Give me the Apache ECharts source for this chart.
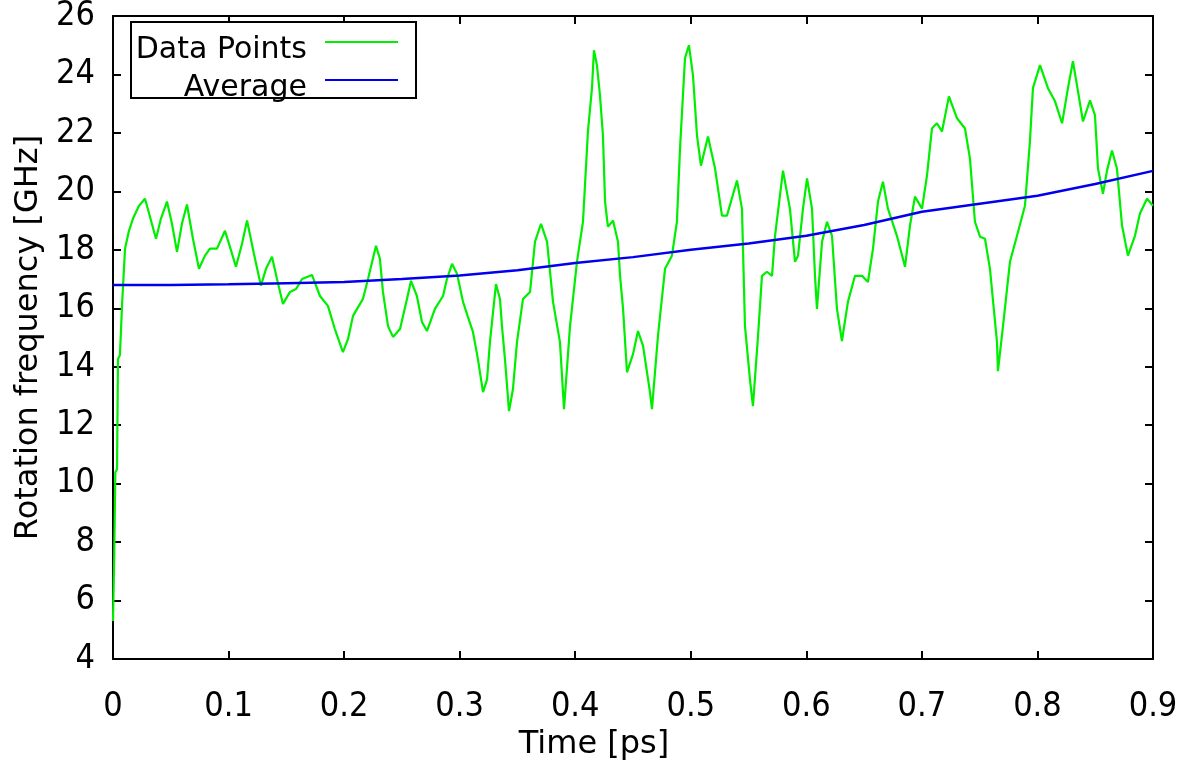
<!DOCTYPE html>
<html>
<head>
<meta charset="utf-8">
<script src="https://cdn.jsdelivr.net/npm/echarts@6/dist/echarts.min.js"></script>
<style>
html,body{margin:0;padding:0;background:#fff;}
#chart{width:1188px;height:762px;}
</style>
</head>
<body>
<div id="chart"></div>
<script>
// ---- Data ----
var dataTime = [0.000,0.001,0.002,0.0035,0.0043,0.006,0.0078,0.0104,0.0138,0.0173,0.0225,0.0277,0.032,0.0372,0.0415,0.0467,0.051,0.0554,0.0597,0.064,0.0692,0.0744,0.0796,0.0839,0.09,0.0969,0.1012,0.1064,0.1116,0.116,0.122,0.128,0.1324,0.1376,0.1419,0.1471,0.1532,0.1584,0.1636,0.1722,0.1791,0.186,0.192,0.199,0.2034,0.2077,0.2163,0.2207,0.2276,0.231,0.2336,0.238,0.2423,0.2484,0.2544,0.2579,0.263,0.2674,0.2717,0.2786,0.2856,0.289,0.2934,0.2977,0.3029,0.3072,0.3115,0.3158,0.3202,0.3237,0.3262,0.3314,0.3349,0.3366,0.3392,0.3427,0.3461,0.3496,0.3548,0.3609,0.3652,0.3704,0.3756,0.3808,0.3868,0.3903,0.3955,0.4015,0.4067,0.411,0.4145,0.4162,0.4188,0.4214,0.424,0.4258,0.4283,0.4327,0.437,0.4388,0.4414,0.4448,0.45,0.4543,0.4587,0.4647,0.4664,0.4716,0.4777,0.4837,0.488,0.4907,0.495,0.4984,0.5019,0.5054,0.5088,0.5149,0.521,0.527,0.5313,0.54,0.5443,0.5469,0.5512,0.5538,0.5582,0.5616,0.5659,0.5703,0.5729,0.5798,0.5858,0.5902,0.5928,0.5971,0.6006,0.6049,0.6075,0.6092,0.6136,0.6179,0.6222,0.6265,0.6308,0.636,0.6421,0.6482,0.6533,0.6577,0.662,0.6663,0.6706,0.6784,0.6854,0.6897,0.694,0.7001,0.7044,0.7087,0.713,0.7174,0.7234,0.7304,0.7373,0.7416,0.7459,0.7503,0.7546,0.7589,0.765,0.7658,0.7702,0.7762,0.7823,0.7892,0.7935,0.7961,0.8022,0.8091,0.8152,0.8213,0.8264,0.8307,0.8351,0.8394,0.8455,0.8498,0.8524,0.8567,0.8602,0.8645,0.8688,0.8732,0.8783,0.8844,0.8887,0.8948,0.9];
var dataFreq = [5.30,7.4,10.38,10.5,14.26,14.4,16.08,18.04,18.65,19.07,19.51,19.75,19.13,18.38,19.07,19.65,18.9,17.93,18.9,19.55,18.38,17.35,17.8,18.04,18.04,18.65,18.1,17.42,18.2,19.0,17.86,16.77,17.35,17.76,17.0,16.15,16.56,16.66,17.0,17.14,16.42,16.08,15.29,14.5,14.95,15.74,16.32,17.0,18.14,17.69,16.56,15.39,15.02,15.29,16.32,16.94,16.42,15.53,15.22,15.98,16.42,17.0,17.52,17.18,16.22,15.7,15.19,14.26,13.13,13.57,14.84,16.83,16.32,15.39,14.26,12.48,13.23,14.84,16.32,16.56,18.28,18.89,18.28,16.22,14.84,12.55,15.39,17.59,18.96,22.05,23.53,24.83,24.32,23.29,21.91,19.65,18.79,19.0,18.28,17.11,15.98,13.81,14.43,15.22,14.71,13.13,12.55,15.05,17.35,17.8,18.96,21.47,24.56,25.0,23.97,21.91,20.88,21.88,20.78,19.17,19.17,20.37,19.41,15.39,13.57,12.65,15.05,17.11,17.25,17.11,18.48,20.71,19.41,17.59,17.8,19.41,20.44,19.41,17.11,15.98,18.28,18.96,18.48,15.98,14.88,16.22,17.11,17.11,16.9,18.04,19.65,20.33,19.41,18.48,17.42,18.83,19.82,19.41,20.54,22.15,22.33,22.05,23.25,22.5,22.15,21.12,18.96,18.45,18.38,17.35,14.84,13.85,15.39,17.59,18.48,19.51,21.71,23.53,24.32,23.53,23.08,22.33,23.53,24.45,23.42,22.39,23.11,22.6,20.78,19.92,20.71,21.4,20.78,18.83,17.8,18.48,19.24,19.75,19.51];
var avgTime = [0,0.05,0.1,0.15,0.2,0.25,0.3,0.35,0.4,0.45,0.5,0.55,0.6,0.65,0.7,0.75,0.8,0.85,0.9];
var avgFreq = [16.8,16.8,16.82,16.86,16.9,17.0,17.12,17.3,17.55,17.75,18.0,18.22,18.48,18.85,19.3,19.58,19.85,20.25,20.7];
var xTicks = [0,0.1,0.2,0.3,0.4,0.5,0.6,0.7,0.8,0.9];
var yTicks = [4,6,8,10,12,14,16,18,20,22,24,26];
var seriesNames = ['Data Points','Average'];
var xName = 'Time [ps]';
var yName = 'Rotation frequency [GHz]';

function zip(a,b){var r=[];for(var i=0;i<a.length;i++){r.push([a[i],b[i]]);}return r;}

var tickFont = "'Liberation Sans Narrow','DejaVu Sans Condensed',sans-serif";
var nameFont = "'DejaVu Sans',sans-serif";

var chart = echarts.init(document.getElementById('chart'), null, {renderer:'canvas'});

var axisLineStyle = {color:'#000', width:2};
function xAxisCfg(pos, showLabel){
  return {
    type:'value', position:pos, min:xTicks[0], max:xTicks[xTicks.length-1], interval:0.1,
    axisLine:{show:true, onZero:false, lineStyle:axisLineStyle},
    axisTick:{show:true, inside:true, length:8, lineStyle:{color:'#000', width:2}},
    splitLine:{show:false},
    axisLabel:{show:showLabel, margin:31, color:'#000', fontFamily:tickFont, fontSize:34,
      formatter:function(v){return v===0?'0':v.toFixed(1);}},
    name: showLabel ? xName : '',
    nameLocation:'middle', nameGap:68,
    nameTextStyle:{color:'#000', fontFamily:nameFont, fontSize:32, padding:[0,78,0,0]}
  };
}
function yAxisCfg(pos, showLabel){
  return {
    type:'value', position:pos, min:yTicks[0], max:yTicks[yTicks.length-1], interval:2,
    axisLine:{show:true, onZero:false, lineStyle:axisLineStyle},
    axisTick:{show:true, inside:true, length:8, lineStyle:{color:'#000', width:2}},
    splitLine:{show:false},
    axisLabel:{show:showLabel, margin:18, color:'#000', fontFamily:tickFont, fontSize:34},
    name: showLabel ? yName : '',
    nameLocation:'middle', nameGap:68,
    nameTextStyle:{color:'#000', fontFamily:nameFont, fontSize:32}
  };
}

var legendText = {fontFamily:nameFont, fontSize:30, color:'#000', padding:[0,13,0,0]};
var legendIcon = 'path://M0,0 L73,0 L73,2 L0,2 Z M0,18 L0.01,18 L0.01,18.01 Z';

var option = {
  backgroundColor:'#fff',
  animation:false,
  grid:{left:113, right:35, top:16, bottom:103, containLabel:false, outerBoundsMode:'none'},
  xAxis:[xAxisCfg('bottom', true), xAxisCfg('top', false)],
  yAxis:[yAxisCfg('left', true), yAxisCfg('right', false)],
  legend:[
    {data:[seriesNames[0]], orient:'horizontal', align:'right', right:790, top:35, padding:0,
     itemWidth:73, itemHeight:30, icon:legendIcon, textStyle:legendText, z:10},
    {data:[seriesNames[1]], orient:'horizontal', align:'right', right:790, top:73, padding:0,
     itemWidth:73, itemHeight:30, icon:legendIcon, textStyle:legendText, z:10}
  ],
  graphic:[
    {type:'rect', z:5, shape:{x:131, y:22, width:285, height:76},
     style:{fill:'#fff', stroke:'#000', lineWidth:2}}
  ],
  series:[
    {name:seriesNames[0], type:'line', xAxisIndex:0, yAxisIndex:0, data:zip(dataTime,dataFreq),
     symbol:'none', showSymbol:false, lineStyle:{color:'#00ee00', width:2.2}, itemStyle:{color:'#00ee00'}, z:2},
    {name:seriesNames[1], type:'line', xAxisIndex:0, yAxisIndex:0, data:zip(avgTime,avgFreq),
     symbol:'none', showSymbol:false, lineStyle:{color:'#0000ee', width:2.5}, itemStyle:{color:'#0000ee'}, z:3}
  ]
};
chart.setOption(option);
</script>
</body>
</html>
